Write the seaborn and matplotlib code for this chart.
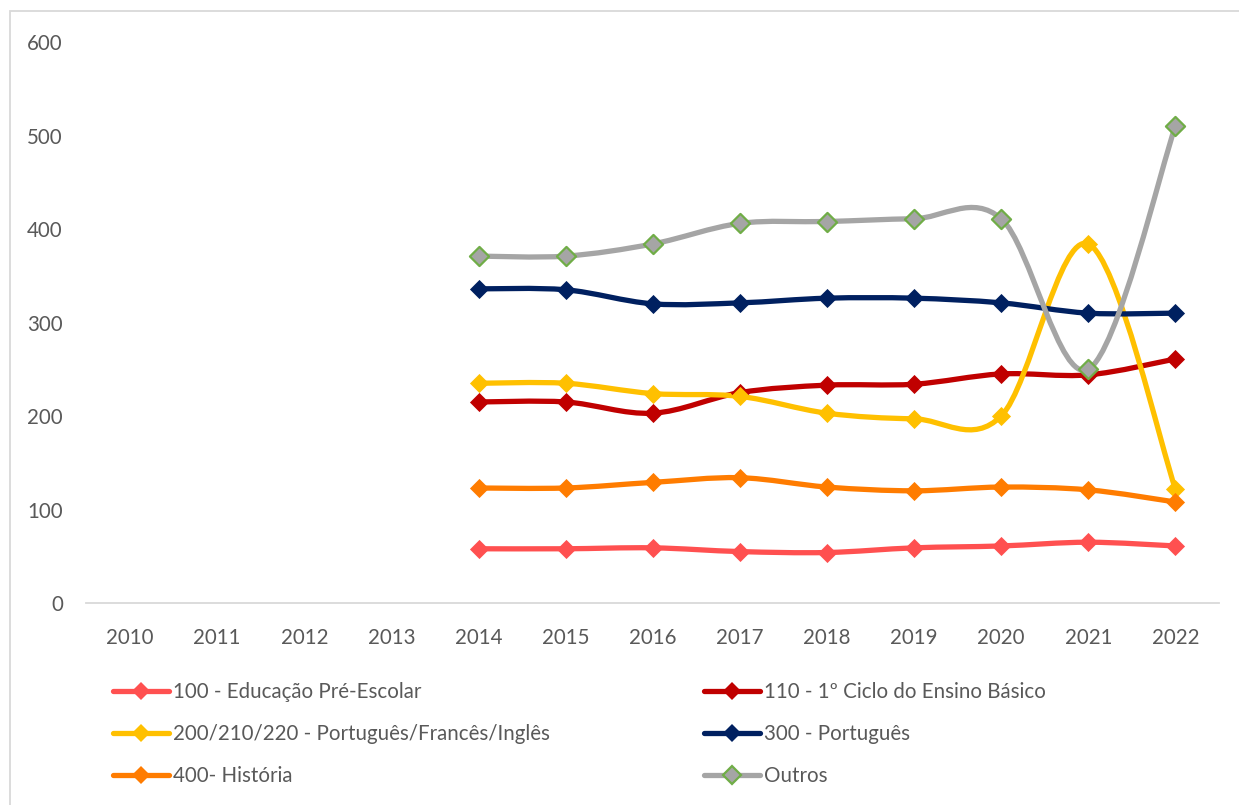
import matplotlib
matplotlib.use("Agg")
import matplotlib.pyplot as plt
from matplotlib.path import Path
from matplotlib.patches import PathPatch, Rectangle
from matplotlib.lines import Line2D
import seaborn as sns
import pandas as pd

years = list(range(2010, 2023))
data_years = list(range(2014, 2023))

series_names = [
    "100 - Educação Pré-Escolar",
    "110 - 1º Ciclo do Ensino Básico",
    "200/210/220 - Português/Francês/Inglês",
    "300 - Português",
    "400- História",
    "Outros",
]

pre_escolar = [58, 58, 59, 55, 54, 59, 61, 65, 61]
ciclo_1 = [215, 215, 203, 225, 233, 234, 245, 244, 261]
port_fr_ing = [235, 235, 224, 221, 203, 197, 200, 384, 122]
portugues = [336, 335, 320, 321, 326, 326, 321, 310, 310]
historia = [123, 123, 129, 134, 124, 120, 124, 121, 108]
outros = [371, 371, 384, 406, 408, 411, 411, 250, 510]

line_colors = ["#FF5050", "#C00000", "#FFC000", "#002060", "#FF7C00", "#A5A5A5"]
edge_colors = ["#FF5050", "#C00000", "#FFC000", "#002060", "#FF7C00", "#70AD47"]

TEXT = "#595959"
FONT = "Lato"
FS = 14.8


def smooth_path(xs, ys):
    # excel-like smoothed line: cubic bezier through the points (catmull-rom tangents)
    pts = list(zip(xs, ys))
    verts = [pts[0]]
    codes = [Path.MOVETO]
    n = len(pts)
    for i in range(n - 1):
        p0 = pts[max(i - 1, 0)]
        p1 = pts[i]
        p2 = pts[i + 1]
        p3 = pts[min(i + 2, n - 1)]
        c1 = (p1[0] + (p2[0] - p0[0]) / 6, p1[1] + (p2[1] - p0[1]) / 6)
        c2 = (p2[0] - (p3[0] - p1[0]) / 6, p2[1] - (p3[1] - p1[1]) / 6)
        verts += [c1, c2, p2]
        codes += [Path.CURVE4] * 3
    return Path(verts, codes)


all_values = [pre_escolar, ciclo_1, port_fr_ing, portugues, historia, outros]
df = pd.concat(
    [pd.DataFrame({"ano": data_years, "valor": v, "serie": name})
     for name, v in zip(series_names, all_values)],
    ignore_index=True,
)

sns.set_theme(style="white")
plt.rcParams["font.family"] = [FONT, "DejaVu Sans"]

fig = plt.figure(figsize=(12.39, 8.05), dpi=100)
ax = fig.add_axes([86.5 / 1239, 1 - 603 / 805, (1219 - 86.5) / 1239, (603 - 42) / 805])

for name, lc, ec in zip(series_names, line_colors, edge_colors):
    sub = df[df["serie"] == name]
    ax.add_patch(PathPatch(smooth_path(sub["ano"].tolist(), sub["valor"].tolist()),
                           fill=False, edgecolor=lc, lw=3.8, capstyle="round",
                           joinstyle="round", zorder=2))
    sns.scatterplot(data=sub, x="ano", y="valor", ax=ax, marker="D", s=95,
                    color=lc, edgecolor=ec, linewidth=1.6 if ec != lc else 0,
                    zorder=3, legend=False)

ax.set_xlim(2009.5, 2022.5)
ax.set_ylim(0, 600)
ax.set_xticks(years)
ax.set_xticklabels([str(y) for y in years])
ax.set_yticks(range(0, 601, 100))
ax.set_xlabel("")
ax.set_ylabel("")
for side in ["top", "right", "left"]:
    ax.spines[side].set_visible(False)
ax.spines["bottom"].set_color("#D9D9D9")
ax.spines["bottom"].set_linewidth(1.3)
ax.tick_params(axis="both", length=0, labelsize=FS, labelcolor=TEXT)
ax.tick_params(axis="x", pad=18)
ax.tick_params(axis="y", pad=17)


def handle(i):
    return Line2D([0], [0], color=line_colors[i], lw=3.8, marker="D", markersize=9,
                  markerfacecolor=line_colors[i], markeredgecolor=edge_colors[i],
                  markeredgewidth=1.6 if edge_colors[i] != line_colors[i] else 0,
                  solid_capstyle="round")


legend_kw = dict(frameon=False, fontsize=FS, labelcolor=TEXT, handlelength=2.7,
                 handletextpad=0.2, labelspacing=1.07, borderaxespad=0, borderpad=0)
left = [0, 2, 4]
right = [1, 3, 5]
leg1 = fig.legend([handle(i) for i in left], [series_names[i] for i in left],
                  loc="upper left", bbox_to_anchor=(113 / 1239, 1 - 682 / 805), **legend_kw)
leg2 = fig.legend([handle(i) for i in right], [series_names[i] for i in right],
                  loc="upper left", bbox_to_anchor=(704 / 1239, 1 - 682 / 805), **legend_kw)

fig.patches.append(Rectangle((10 / 1239, -0.1), 1.2, 1 - 11 / 805 + 0.1,
                             transform=fig.transFigure, fill=False,
                             edgecolor="#D9D9D9", lw=1.3))

fig.savefig("out.png", dpi=100)
